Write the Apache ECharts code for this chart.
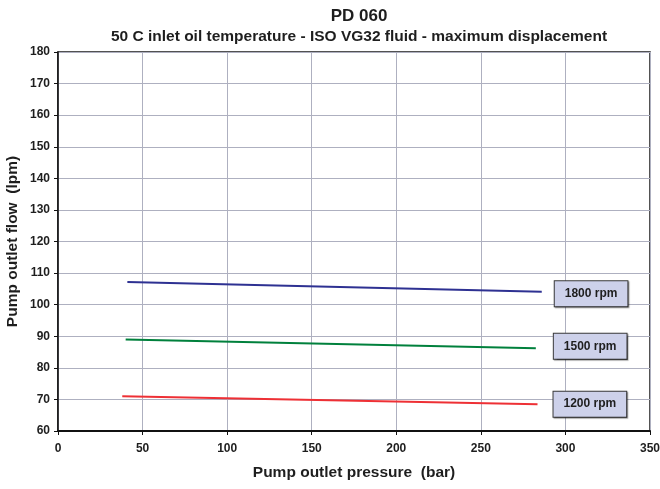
<!DOCTYPE html>
<html>
<head>
<meta charset="utf-8">
<script src="https://cdn.jsdelivr.net/npm/echarts@6/dist/echarts.min.js"></script>
<style>
  html, body { margin: 0; padding: 0; background: #fff; }
  #chart { width: 660px; height: 489px; }
</style>
</head>
<body>
<div id="chart"></div>
<script>
// pressure (bar) -> flow (lpm), start and end of each speed line
const p1800 = [41, 286];
const q1800 = [107.2, 104.1];
const p1500 = [40, 282.5];
const q1500 = [89.0, 86.2];
const p1200 = [38, 283.5];
const q1200 = [71.0, 68.5];
const speedLabels = ['1800 rpm', '1500 rpm', '1200 rpm'];

const pairs = (xs, ys) => xs.map((x, i) => [x, ys[i]]);

const myChart = echarts.init(document.getElementById('chart'));
const font = 'Liberation Sans, Arial, sans-serif';
const txt = '#1e1e1e';

function rpmLabel(text, offset) {
    return {
        show: true,
        formatter: text,
        distance: 0,
        offset: offset,
        fontFamily: font,
        fontWeight: 'bold',
        fontSize: 12,
        color: txt,
        backgroundColor: '#cdd1ea',
        borderColor: '#3a3a3a',
        borderWidth: 1,
        padding: [7, 10, 6, 10],
        shadowColor: 'rgba(0,0,0,0.35)',
        shadowOffsetX: 1,
        shadowOffsetY: 1,
        shadowBlur: 1
    };
}

const option = {
    backgroundColor: '#fff',
    animation: false,
    title: {
        text: 'PD 060',
        subtext: '50 C inlet oil temperature - ISO VG32 fluid - maximum displacement',
        left: 354,
        textAlign: 'center',
        top: 3,
        itemGap: 4,
        textStyle: { fontFamily: font, fontWeight: 'bold', fontSize: 17, color: txt },
        subtextStyle: { fontFamily: font, fontWeight: 'bold', fontSize: 15.5, color: txt }
    },
    grid: {
        left: 58, right: 10, top: 52, bottom: 58,
        outerBoundsMode: 'none',
        containLabel: false,
        show: true,
        borderColor: '#1a1a1a',
        borderWidth: 1.5
    },
    xAxis: {
        type: 'value',
        min: 0, max: 350, interval: 50,
        name: 'Pump outlet pressure  (bar)',
        nameLocation: 'middle',
        nameGap: 34,
        nameMoveOverlap: false,
        nameTextStyle: { fontFamily: font, fontWeight: 'bold', fontSize: 15.5, color: txt },
        axisLine: { lineStyle: { color: '#111', width: 2 } },
        axisTick: { show: true, length: 4, lineStyle: { color: '#111' } },
        axisLabel: { margin: 12, fontFamily: font, fontWeight: 'bold', fontSize: 12, color: txt },
        splitLine: { lineStyle: { color: '#aeb0c0', width: 1 } }
    },
    yAxis: {
        type: 'value',
        min: 60, max: 180, interval: 10,
        name: 'Pump outlet flow  (lpm)',
        nameLocation: 'middle',
        nameGap: 37,
        nameMoveOverlap: false,
        nameTextStyle: { fontFamily: font, fontWeight: 'bold', fontSize: 15.5, color: txt },
        axisLine: { lineStyle: { color: '#111', width: 1.5 } },
        axisTick: { show: true, length: 4, lineStyle: { color: '#111' } },
        axisLabel: { margin: 8, fontFamily: font, fontWeight: 'bold', fontSize: 12, color: txt },
        splitLine: { lineStyle: { color: '#aeb0c0', width: 1 } }
    },
    series: [
        {
            name: speedLabels[0], type: 'line', data: pairs(p1800, q1800),
            showSymbol: false, lineStyle: { color: '#2e3192', width: 2 },
            endLabel: rpmLabel(speedLabels[0], [13, 2])
        },
        {
            name: speedLabels[1], type: 'line', data: pairs(p1500, q1500),
            showSymbol: false, lineStyle: { color: '#00803c', width: 2 },
            endLabel: rpmLabel(speedLabels[1], [18, -2])
        },
        {
            name: speedLabels[2], type: 'line', data: pairs(p1200, q1200),
            showSymbol: false, lineStyle: { color: '#ee3035', width: 2 },
            endLabel: rpmLabel(speedLabels[2], [16, 0])
        }
    ]
};
myChart.setOption(option);
</script>
</body>
</html>
